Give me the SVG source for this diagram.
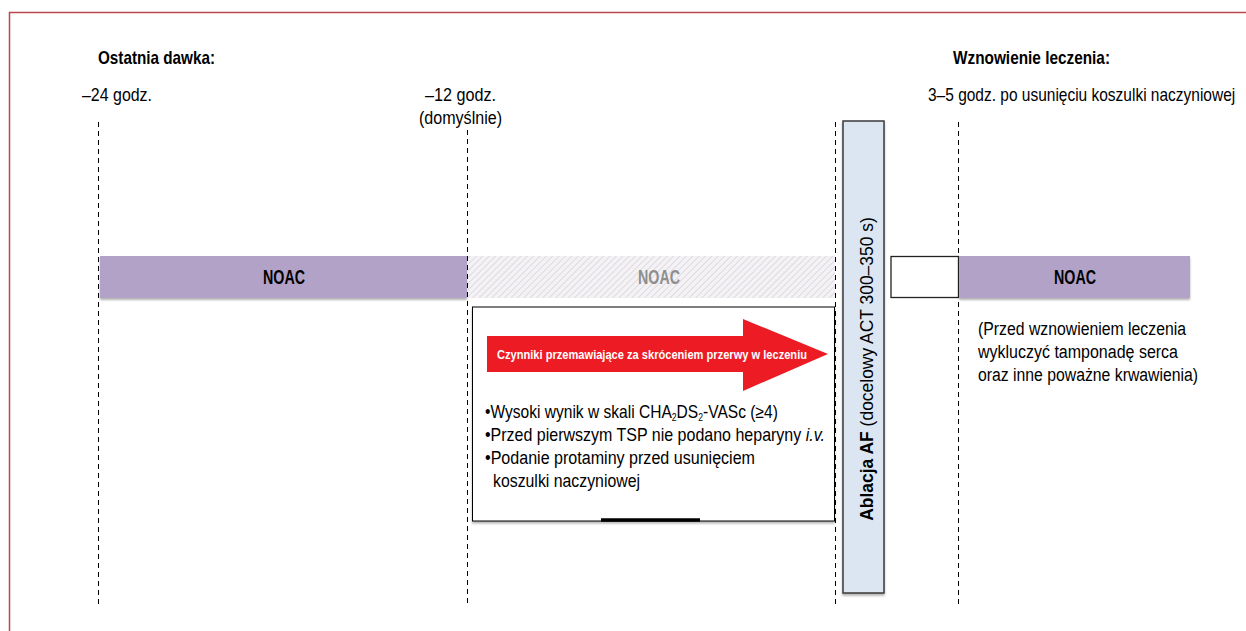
<svg xmlns="http://www.w3.org/2000/svg" width="1246" height="631" viewBox="0 0 1246 631">
<style>
.t{font-family:"Liberation Sans",Arial,sans-serif;fill:#000}
.b{font-weight:bold}
.dash{stroke:#000;stroke-width:1;stroke-dasharray:5,4;fill:none}
.noac{fill:#b3a2c7}
</style>
<defs>
<pattern id="hatch" width="4.5" height="4.5" patternUnits="userSpaceOnUse" patternTransform="rotate(45)">
<rect width="4.5" height="4.5" fill="#f4f2f5"/>
<line x1="0" y1="0" x2="0" y2="4.5" stroke="#d9d5dc" stroke-width="1.6"/>
</pattern>
<filter id="sh" x="-5%" y="-20%" width="110%" height="150%">
<feDropShadow dx="0" dy="2" stdDeviation="1.2" flood-color="#000" flood-opacity="0.3"/>
</filter>
</defs>
<rect width="1246" height="631" fill="#fff"/>
<path d="M9.5 631 V12.5 H1246" fill="none" stroke="#b8474e" stroke-width="1.5"/>

<g id="headers">
<text class="t b" x="98" y="64" font-size="19" textLength="117" lengthAdjust="spacingAndGlyphs">Ostatnia dawka:</text>
<text class="t b" x="953" y="64" font-size="19" textLength="157" lengthAdjust="spacingAndGlyphs">Wznowienie leczenia:</text>
<text class="t" x="82" y="101" font-size="17.5" textLength="70" lengthAdjust="spacingAndGlyphs">–24 godz.</text>
<text class="t" x="425" y="101" font-size="17.5" textLength="71" lengthAdjust="spacingAndGlyphs">–12 godz.</text>
<text class="t" x="419" y="124" font-size="17.5" textLength="83" lengthAdjust="spacingAndGlyphs">(domyślnie)</text>
<g transform="translate(928 101) scale(0.885 1)">
<text class="t" x="0" y="0" font-size="17.5">3–5 godz. po usunięciu koszulki naczyniowej</text>
</g>
</g>

<g id="connectors">
<line class="dash" x1="98.5" y1="122" x2="98.5" y2="606"/>
<line class="dash" x1="467.5" y1="130" x2="467.5" y2="606"/>
<line class="dash" x1="835.5" y1="122" x2="835.5" y2="606"/>
<line class="dash" x1="958.5" y1="122" x2="958.5" y2="606"/>
</g>

<g id="noac1">
<rect class="noac" x="100" y="256" width="367" height="42" filter="url(#sh)"/>
<text class="t b" x="263" y="284" font-size="20" textLength="42" lengthAdjust="spacingAndGlyphs">NOAC</text>
</g>

<g id="noac2">
<rect x="468" y="256" width="367" height="42" fill="url(#hatch)"/>
<text class="t b" x="638" y="284" font-size="20" textLength="42" lengthAdjust="spacingAndGlyphs" style="fill:#8e8e8e">NOAC</text>
</g>

<g id="gap">
<rect x="891" y="256.5" width="67.5" height="41" fill="#fff" stroke="#222" stroke-width="1.3"/>
</g>

<g id="noac3">
<rect class="noac" x="959" y="256" width="231" height="42" filter="url(#sh)"/>
<text class="t b" x="1054" y="284" font-size="20" textLength="42" lengthAdjust="spacingAndGlyphs">NOAC</text>
</g>

<g id="ablation">
<rect x="843" y="121" width="41" height="472" fill="#dce6f2" stroke="#3a3a3a" stroke-width="1.5" filter="url(#sh)"/>
<g transform="translate(873 369) rotate(-90) scale(0.97 1)">
<text class="t" x="0" y="0" font-size="18" text-anchor="middle"><tspan class="b">Ablacja AF</tspan> (docelowy ACT 300–350 s)</text>
</g>
</g>

<g id="factors">
<rect x="472.5" y="307" width="362" height="214" fill="#fff" stroke="#000" stroke-width="1" filter="url(#sh)"/>
<line x1="601" y1="520" x2="700" y2="520" stroke="#000" stroke-width="3.5"/>
<polygon points="487,336 743,336 743,319 828,354 743,391 743,372 487,372" fill="#ed1c24"/>
<text class="t b" x="497" y="358.5" font-size="13" textLength="310" lengthAdjust="spacingAndGlyphs" style="fill:#fff">Czynniki przemawiające za skróceniem przerwy w leczeniu</text>
<g transform="translate(485 418) scale(0.865 1)">
<text class="t" x="0" y="0" font-size="18">•Wysoki wynik w skali CHA<tspan font-size="10" dy="3">2</tspan><tspan dy="-3">DS</tspan><tspan font-size="10" dy="3">2</tspan><tspan dy="-3">-VASc (≥4)</tspan></text>
</g>
<g transform="translate(485 441) scale(0.89 1)">
<text class="t" x="0" y="0" font-size="18">•Przed pierwszym TSP nie podano heparyny <tspan font-style="italic">i.v.</tspan></text>
</g>
<text class="t" x="485" y="464" font-size="18" textLength="270" lengthAdjust="spacingAndGlyphs">•Podanie protaminy przed usunięciem</text>
<text class="t" x="493" y="487" font-size="18" textLength="147" lengthAdjust="spacingAndGlyphs">koszulki naczyniowej</text>
</g>

<g id="note">
<text class="t" x="978" y="335" font-size="18" textLength="208" lengthAdjust="spacingAndGlyphs">(Przed wznowieniem leczenia</text>
<text class="t" x="978" y="358" font-size="18" textLength="200" lengthAdjust="spacingAndGlyphs">wykluczyć tamponadę serca</text>
<text class="t" x="978" y="381" font-size="18" textLength="220" lengthAdjust="spacingAndGlyphs">oraz inne poważne krwawienia)</text>
</g>
</svg>
